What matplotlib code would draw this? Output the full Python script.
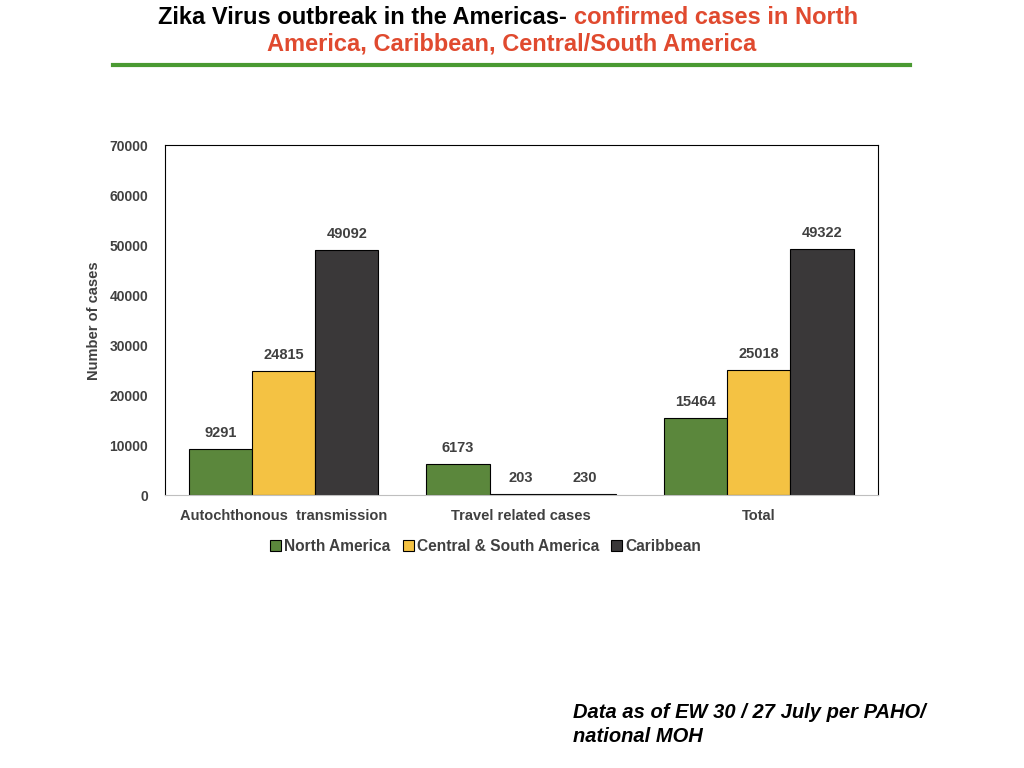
import numpy as np
import matplotlib.pyplot as plt
from matplotlib.lines import Line2D

plt.rcParams['font.family'] = ['Liberation Sans', 'DejaVu Sans']

categories = ['Autochthonous  transmission', 'Travel related cases', 'Total']
series = ['North America', 'Central & South America', 'Caribbean']
north_america = [9291, 6173, 15464]
central_south = [24815, 203, 25018]
caribbean = [49092, 230, 49322]
colors = ['#5b873c', '#f4c243', '#3a3839']

fig = plt.figure(figsize=(10.24, 7.68), dpi=100)
ax = fig.add_axes([0.161, 0.355, 0.696, 0.456])

x = np.arange(len(categories))
w = 0.266
for i, (vals, name) in enumerate(zip([north_america, central_south, caribbean], series)):
    pos = x + (i - 1) * w
    ax.bar(pos, vals, w, color=colors[i], edgecolor='black', linewidth=0.8, label=name)
    for p, v in zip(pos, vals):
        ax.text(p, v + 1800, str(v), ha='center', va='bottom', fontsize=10.5,
                fontweight='bold', color='#404040')

ax.set_xlim(-0.5, 2.5)
ax.set_ylim(0, 70000)
ax.set_yticks(np.arange(0, 70001, 10000))
ax.set_xticks(x)
ax.set_xticklabels(categories, fontsize=10.5, fontweight='bold', color='#404040')
ax.tick_params(axis='x', length=0, pad=10)
ax.tick_params(axis='y', length=0, pad=12)
for lab in ax.get_yticklabels():
    lab.set_fontsize(10)
    lab.set_fontweight('bold')
    lab.set_color('#404040')
ax.set_ylabel('Number of cases', fontsize=10.5, fontweight='bold', color='#404040', labelpad=6)
for s in ax.spines.values():
    s.set_linewidth(0.8)
ax.spines['bottom'].set_color('#bfbfbf')

ax.legend(loc='upper center', bbox_to_anchor=(0.45, -0.085), ncol=3, frameon=False,
          prop={'weight': 'bold', 'size': 11.2}, handlelength=0.7,
          handleheight=0.7, handletextpad=0.2, columnspacing=0.8,
          labelcolor='#404040')

# title
fig.text(574 / 1024, 1 - 17 / 768, 'Zika Virus outbreak in the Americas- ', ha='right',
         va='center', fontsize=17, fontweight='bold', color='black')
fig.text(574 / 1024, 1 - 17 / 768, 'confirmed cases in North', ha='left',
         va='center', fontsize=17, fontweight='bold', color='#e04a2f')
fig.text(512 / 1024, 1 - 44 / 768, 'America, Caribbean, Central/South America', ha='center',
         va='center', fontsize=17, fontweight='bold', color='#e04a2f')
fig.add_artist(Line2D([113 / 1024, 910 / 1024], [1 - 65 / 768, 1 - 65 / 768],
                      color='#4a9a32', linewidth=3))

fig.text(573 / 1024, 1 - 712 / 768, 'Data as of EW 30 / 27 July per PAHO/', ha='left',
         va='center', fontsize=14.5, fontweight='bold', style='italic')
fig.text(573 / 1024, 1 - 737 / 768, 'national MOH', ha='left',
         va='center', fontsize=14.5, fontweight='bold', style='italic')

fig.savefig('out.png', dpi=100)
